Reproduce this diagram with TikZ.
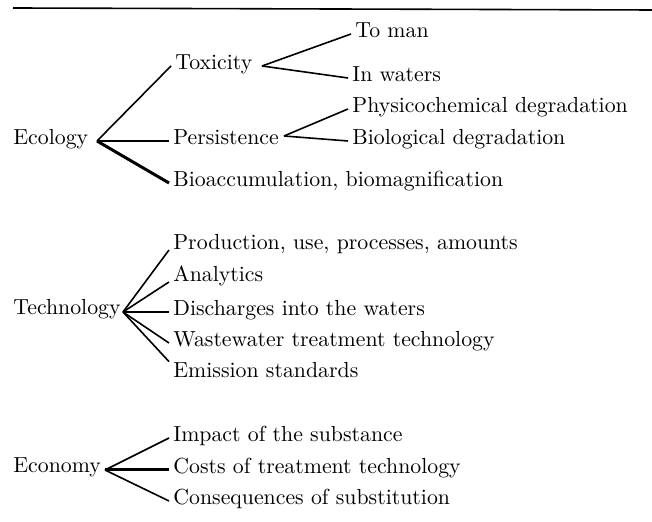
\documentclass[tikz,border=0pt]{standalone}
\usetikzlibrary{positioning}

\begin{document}
\begin{tikzpicture}[
  x=0.5pt, y=-0.5pt,
  font=\fontsize{10.9}{13}\selectfont,
  item/.style={anchor=west, inner sep=2pt, text height=6pt, text depth=2pt},
  branch/.style={line width=0.8pt, draw=black},
  heavy/.style={branch, line width=1.5pt},
  rule/.style={line width=0.8pt, draw=black}
]
\useasboundingbox (0,0) rectangle (652,522);

\coordinate (rule-l) at (13,8);
\coordinate (rule-r) at (652,10);
\draw[rule] (rule-l) -- (rule-r);

% Ecology
\node[item] (ecol) at (9,141) {Ecology};
\coordinate (ecol-b) at (97,141);
\node[item] (tox) at (171,66) {Toxicity};
\node[item] (pers) at (169,141) {Persistence};
\node[item] (bioa) at (169,183) {Bioaccumulation, biomagnification};
\draw[branch] (ecol-b) -- (tox.west);
\draw[branch] (ecol-b) -- (pers.west);
\draw[heavy] (ecol-b) -- (bioa.west);

\coordinate (tox-b) at (262,66);
\node[item] (man) at (351,34) {To man};
\node[item] (wat) at (348,78) {In waters};
\draw[branch] (tox-b) -- (man.west);
\draw[branch] (tox-b) -- (wat.west);

\coordinate (pers-b) at (284,136);
\node[item] (phys) at (348,109) {Physicochemical degradation};
\node[item] (biol) at (348,141) {Biological degradation};
\draw[branch] (pers-b) -- (phys.west);
\draw[branch] (pers-b) -- (biol.west);

% Technology
\node[item] (tech) at (9,311) {Technology};
\coordinate (tech-b) at (123,312);
\node[item] (prod) at (169,246) {Production, use, processes, amounts};
\node[item] (ana) at (169,278) {Analytics};
\node[item] (dis) at (169,312) {Discharges into the waters};
\node[item] (was) at (169,343) {Wastewater treatment technology};
\node[item] (emi) at (169,374) {Emission standards};
\draw[branch] (tech-b) -- (prod.base west);
\draw[branch] (tech-b) -- (ana.base west);
\draw[branch] (tech-b) -- (dis.west);
\draw[branch] (tech-b) -- (was.west);
\draw[branch] (tech-b) -- (emi.north west);

% Economy
\node[item] (econ) at (9,469) {Economy};
\coordinate (econ-b) at (105,470);
\node[item] (imp) at (169,438) {Impact of the substance};
\node[item] (cost) at (169,470) {Costs of treatment technology};
\node[item] (cons) at (169,501) {Consequences of substitution};
\draw[branch] (econ-b) -- (imp.west);
\draw[heavy] (econ-b) -- (cost.west);
\draw[branch] (econ-b) -- (cons.west);

\end{tikzpicture}
\end{document}
